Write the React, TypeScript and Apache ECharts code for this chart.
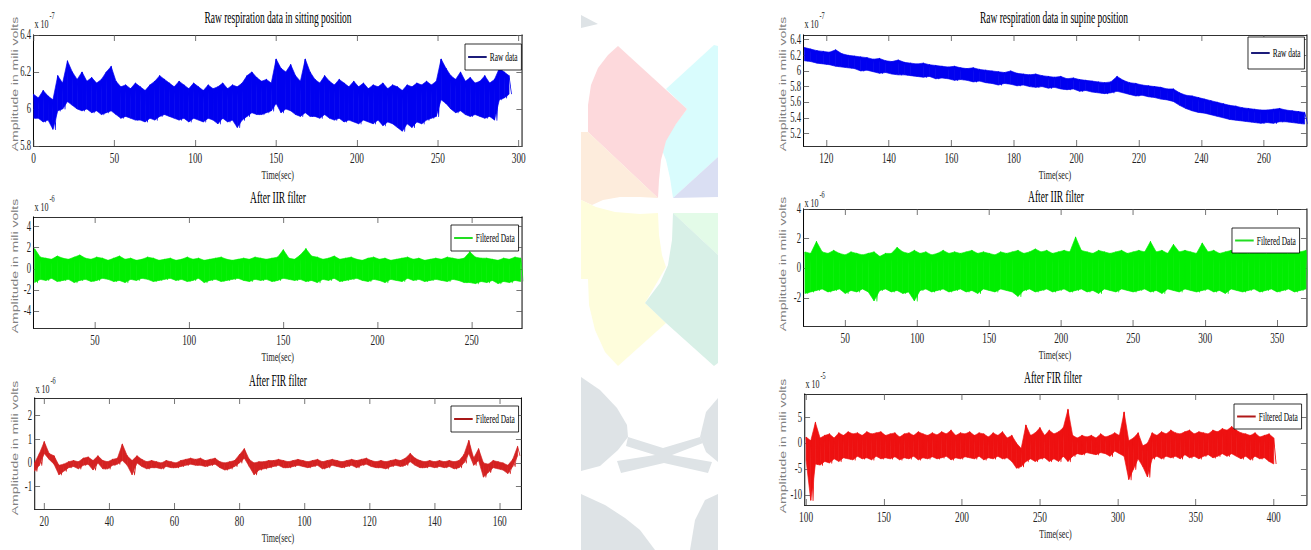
import React, { useEffect, useRef } from "react";
import * as echarts from "echarts";

// ---------------- DATA ----------------
// Sitting, raw (x 1e-7), envelope peaks / troughs every 3 s from t = 0
const sitRawT0 = 0;
const sitRawDt = 3;
const sitRawHi = [6.08,6.06,6.1,6.07,6.05,6.18,6.14,6.26,6.2,6.16,6.2,6.15,6.17,6.14,6.16,6.2,6.23,6.15,6.12,6.13,6.11,6.14,6.12,6.1,6.13,6.15,6.18,6.16,6.14,6.12,6.15,6.13,6.11,6.14,6.12,6.1,6.13,6.11,6.12,6.14,6.11,6.13,6.12,6.14,6.18,6.2,6.17,6.15,6.16,6.14,6.27,6.22,6.2,6.24,6.18,6.15,6.27,6.2,6.16,6.14,6.18,6.15,6.13,6.16,6.14,6.12,6.15,6.12,6.14,6.11,6.13,6.12,6.14,6.11,6.13,6.12,6.1,6.13,6.12,6.14,6.13,6.15,6.13,6.15,6.27,6.22,6.18,6.16,6.2,6.15,6.17,6.14,6.15,6.18,6.14,6.16,6.22,6.2,6.18];
const sitRawLo = [5.95,5.95,5.93,5.94,5.89,5.99,6.0,6.04,6.02,6.0,5.99,6.0,5.98,5.99,5.97,5.98,5.99,5.97,5.95,5.96,5.95,5.94,5.94,5.93,5.95,5.94,5.96,5.97,5.96,5.95,5.94,5.95,5.93,5.95,5.94,5.93,5.95,5.94,5.92,5.95,5.93,5.94,5.9,5.94,5.96,5.98,5.97,5.97,5.98,5.99,6.03,5.98,6.0,5.99,5.97,5.96,5.98,5.96,5.96,5.95,5.97,5.95,5.94,5.95,5.93,5.94,5.93,5.92,5.94,5.93,5.92,5.94,5.91,5.93,5.92,5.9,5.88,5.92,5.9,5.93,5.92,5.94,5.95,5.96,6.05,6.03,6.0,5.98,5.99,5.97,5.96,5.97,5.96,5.95,5.96,5.94,6.05,6.06,6.08];

// Sitting, after IIR (x 1e-6), every 3 s from t = 18
const sitIirT0 = 18;
const sitIirDt = 3;
const sitIirHi = [1.9,1.1,1.0,0.9,1.2,1.0,0.9,1.1,1.3,1.0,0.9,1.1,1.0,0.8,1.0,1.2,0.9,1.0,0.8,0.9,1.1,1.0,0.8,0.9,1.0,0.8,0.9,1.1,0.9,1.0,0.8,0.9,1.0,1.1,0.9,0.8,0.9,1.0,0.9,1.1,1.0,0.9,1.0,1.1,1.8,1.0,0.9,1.3,1.9,1.2,1.1,0.9,1.0,1.2,0.9,1.0,1.1,0.9,0.8,1.0,1.1,0.9,1.0,0.8,0.9,1.0,1.1,0.9,1.0,0.8,0.9,1.0,0.9,1.1,1.0,0.9,1.0,1.6,1.1,1.0,1.0,0.9,0.8,1.0,0.9,1.1,1.0];
const sitIirLo = [-1.3,-1.0,-1.1,-0.9,-1.2,-1.1,-1.0,-1.3,-1.1,-1.0,-1.2,-1.1,-0.9,-1.0,-1.2,-1.1,-1.3,-1.0,-1.1,-0.9,-1.0,-1.2,-1.1,-1.0,-0.9,-1.1,-1.0,-1.2,-1.1,-0.9,-1.3,-1.1,-1.0,-1.2,-1.1,-1.0,-0.9,-1.1,-1.2,-1.0,-1.1,-1.0,-1.2,-1.1,-0.9,-1.0,-1.1,-1.0,-1.2,-1.1,-1.3,-1.0,-1.1,-0.9,-1.2,-1.1,-1.0,-0.9,-1.1,-1.2,-1.0,-1.1,-1.3,-1.0,-1.1,-1.2,-0.9,-1.1,-1.0,-1.2,-1.1,-1.0,-1.1,-1.2,-1.0,-1.1,-1.3,-1.3,-1.4,-1.2,-1.3,-1.1,-1.4,-1.2,-1.3,-1.1,-1.2];

// Sitting, after FIR (x 1e-6), every 1.5 s from t = 17
const sitFirT0 = 17;
const sitFirDt = 1.5;
const sitFirHi = [0.0,0.4,0.9,0.4,0.3,-0.1,-0.05,0.05,0.1,0.05,0.2,0.25,0.1,0.3,0.1,0.05,0.15,0.2,0.8,0.3,0.1,0.3,0.15,0.05,0.1,0.05,0.0,0.1,0.05,0.0,0.1,0.15,0.2,0.15,0.2,0.1,0.15,0.2,0.05,0.0,0.05,0.1,0.35,0.6,0.15,0.0,0.05,0.05,0.1,0.1,0.15,0.1,0.05,0.1,0.15,0.1,0.05,0.1,0.15,0.05,0.1,0.15,0.1,0.05,0.1,0.15,0.1,0.15,0.2,0.1,0.05,0.1,0.05,0.1,0.15,0.1,0.2,0.4,0.2,0.1,0.05,0.1,0.05,0.1,0.05,0.1,0.05,0.1,0.35,0.95,0.2,0.6,0.0,-0.05,0.1,0.05,0.0,-0.1,0.15,0.7];
const sitFirLo = [-0.35,-0.1,0.4,0.15,-0.05,-0.5,-0.35,-0.2,-0.15,-0.25,-0.1,-0.05,-0.3,0.0,-0.25,-0.25,-0.1,-0.05,0.1,-0.1,-0.5,0.0,-0.15,-0.25,-0.2,-0.2,-0.25,-0.15,-0.2,-0.2,-0.15,-0.1,-0.05,-0.1,-0.1,-0.15,-0.1,-0.05,-0.2,-0.3,-0.25,-0.15,0.0,0.2,-0.15,-0.5,-0.3,-0.25,-0.2,-0.15,-0.1,-0.2,-0.2,-0.15,-0.1,-0.15,-0.2,-0.15,-0.1,-0.25,-0.2,-0.1,-0.15,-0.2,-0.15,-0.1,-0.2,-0.1,-0.05,-0.15,-0.2,-0.2,-0.25,-0.15,-0.1,-0.15,-0.1,0.05,-0.1,-0.2,-0.2,-0.15,-0.2,-0.15,-0.2,-0.15,-0.25,-0.2,0.0,0.4,-0.1,0.1,-0.6,-0.4,-0.2,-0.25,-0.3,-0.45,-0.15,0.3];

// Supine, raw (x 1e-7), every 2 s from t = 113
const supRawT0 = 113;
const supRawDt = 2;
const supRawHi = [6.3,6.28,6.26,6.25,6.24,6.27,6.22,6.2,6.19,6.18,6.17,6.15,6.16,6.13,6.12,6.14,6.11,6.1,6.09,6.1,6.08,6.07,6.06,6.05,6.06,6.04,6.03,6.04,6.02,6.01,6.0,5.99,5.98,6.0,5.97,5.96,5.95,5.96,5.94,5.93,5.92,5.93,5.9,5.91,5.89,5.88,5.87,5.86,5.85,5.86,5.93,5.88,5.85,5.84,5.82,5.81,5.8,5.79,5.77,5.77,5.72,5.69,5.68,5.66,5.64,5.62,5.6,5.58,5.56,5.55,5.53,5.52,5.51,5.5,5.5,5.51,5.52,5.5,5.49,5.48,5.47];
const supRawLo = [6.13,6.12,6.1,6.09,6.08,6.06,6.05,6.04,6.03,6.0,6.01,5.99,5.97,5.98,5.96,5.95,5.95,5.94,5.93,5.92,5.93,5.9,5.91,5.9,5.88,5.89,5.88,5.86,5.87,5.85,5.84,5.82,5.84,5.83,5.81,5.82,5.8,5.79,5.8,5.78,5.79,5.77,5.76,5.77,5.74,5.75,5.73,5.72,5.71,5.72,5.74,5.72,5.7,5.68,5.69,5.67,5.66,5.64,5.63,5.61,5.56,5.52,5.49,5.47,5.46,5.44,5.42,5.4,5.38,5.37,5.36,5.35,5.34,5.33,5.34,5.33,5.35,5.35,5.34,5.33,5.32];

// Supine, after IIR (x 1e-6), every 4 s from t = 22
const supIirT0 = 22;
const supIirDt = 4;
const supIirHi = [1.1,1.0,1.8,1.1,1.0,1.2,1.0,0.9,1.1,1.0,0.9,1.0,1.1,0.8,1.0,1.0,1.4,1.1,1.0,1.2,1.0,1.1,0.9,1.0,1.2,1.0,1.1,1.0,1.1,1.2,1.0,1.1,1.0,0.9,1.1,1.0,1.1,1.2,1.0,1.1,1.3,1.1,1.2,1.0,1.1,1.2,1.1,2.1,1.2,1.1,1.0,1.2,1.1,1.0,1.1,1.2,1.0,1.1,1.2,1.1,1.8,1.1,1.2,1.0,1.6,1.1,1.2,1.1,1.0,1.7,1.1,1.2,1.0,1.1,1.2,1.0,1.1,1.0,1.1,1.2,1.0,1.1,1.2,1.1,1.0,1.2,1.1,1.2];
const supIirLo = [-1.7,-1.6,-1.5,-1.4,-1.6,-1.5,-1.4,-1.7,-1.5,-1.6,-1.4,-1.6,-2.2,-1.5,-1.4,-1.6,-1.5,-1.7,-1.6,-2.2,-1.5,-1.4,-1.6,-1.5,-1.4,-1.6,-1.5,-1.4,-1.6,-1.5,-1.7,-1.4,-1.5,-1.6,-1.4,-1.5,-1.6,-1.9,-1.5,-1.4,-1.6,-1.5,-1.4,-1.6,-1.5,-1.4,-1.6,-1.5,-1.4,-1.6,-1.5,-1.7,-1.4,-1.5,-1.6,-1.4,-1.5,-1.6,-1.5,-1.4,-1.6,-1.5,-1.7,-1.4,-1.5,-1.6,-1.4,-1.5,-1.6,-1.5,-1.4,-1.6,-1.5,-1.7,-1.4,-1.5,-1.6,-1.5,-1.4,-1.6,-1.5,-1.4,-1.6,-1.5,-1.4,-1.6,-1.5,-1.4];

// Supine, after FIR (x 1e-5), every 3 s from t = 100
const supFirT0 = 100;
const supFirDt = 3;
const supFirHi = [1.2,0.5,4.0,1.0,1.5,1.8,1.0,2.0,1.5,2.2,1.8,2.0,1.5,2.2,1.8,2.0,2.2,1.5,1.8,2.0,1.2,1.8,2.0,1.5,2.2,1.8,1.5,2.0,1.6,2.2,1.8,2.5,1.5,2.0,1.8,2.2,1.5,2.0,1.8,1.2,2.0,1.5,2.2,1.0,1.5,0.0,-1.0,3.5,1.5,2.0,3.0,1.5,2.5,1.8,2.2,3.0,6.5,1.5,1.0,1.5,1.2,1.5,1.0,1.8,1.2,1.5,2.0,1.5,6.0,0.5,1.0,2.0,-0.5,0.0,2.0,1.5,2.2,1.8,2.5,2.0,1.8,2.2,2.5,1.8,2.2,2.0,1.8,2.5,2.2,2.8,2.5,3.2,2.5,2.0,1.8,1.5,2.0,1.2,1.5,1.8,1.0];
const supFirLo = [-3.2,-11.0,-4.0,-4.2,-3.5,-3.8,-3.0,-3.5,-2.8,-3.0,-3.2,-2.5,-3.0,-2.8,-3.2,-2.5,-3.0,-2.8,-3.0,-2.6,-3.2,-2.8,-3.0,-2.5,-3.2,-2.8,-3.0,-2.6,-3.0,-2.8,-2.5,-3.2,-2.8,-3.0,-2.6,-2.8,-3.0,-2.5,-3.2,-2.8,-3.0,-2.5,-3.0,-2.8,-3.5,-4.8,-4.5,-3.5,-3.0,-3.5,-3.0,-2.8,-3.5,-3.0,-3.5,-2.5,-3.5,-2.5,-2.0,-2.2,-1.8,-2.0,-2.2,-1.8,-2.0,-2.5,-1.5,-2.0,-2.5,-7.0,-5.0,-3.0,-4.5,-6.5,-3.0,-2.5,-3.0,-2.5,-2.8,-2.5,-3.0,-2.2,-2.8,-2.5,-3.0,-2.5,-2.2,-2.8,-2.5,-2.0,-2.5,-2.0,-2.5,-3.0,-2.5,-3.2,-2.5,-3.0,-2.8,-3.5,-4.0];

// Tick values / labels
const sitRawXTicks = [0, 50, 100, 150, 200, 250, 300];
const sitRawYTicks = [5.8, 6, 6.2, 6.4];
const sitIirXTicks = [50, 100, 150, 200, 250];
const sitIirYTicks = [-4, -2, 0, 2, 4];
const sitFirXTicks = [20, 40, 60, 80, 100, 120, 140, 160];
const sitFirYTicks = [-1, 0, 1, 2];
const supRawXTicks = [120, 140, 160, 180, 200, 220, 240, 260];
const supRawYTicks = [5.2, 5.4, 5.6, 5.8, 6, 6.2, 6.4];
const supIirXTicks = [50, 100, 150, 200, 250, 300, 350];
const supIirYTicks = [-2, 0, 2, 4];
const supFirXTicks = [100, 150, 200, 250, 300, 350, 400];
const supFirYTicks = [-10, -5, 0, 5];

const titles = [
  "Raw respiration data in sitting position",
  "After IIR filter",
  "After FIR filter",
  "Raw respiration data in supine position",
  "After IIR filter",
  "After FIR filter",
];
const exponents = ["-7", "-6", "-6", "-7", "-6", "-5"];
const legendNames = ["Raw data", "Filtered Data", "Filtered Data", "Raw data", "Filtered Data", "Filtered Data"];
const yAxisTitle = "Amplitude in mili volts";
const xAxisTitle = "Time(sec)";

// ---------------- LAYOUT ----------------
const S = 0.62; // horizontal squeeze of the whole figure
const W = 1311;
const H = 550;
const CW = W / S;
const X = (px: number) => px / S;

type Panel = {
  L: number; T: number; R: number; B: number;
  xMin: number; xMax: number; yMin: number; yMax: number;
  xTicks: number[]; yTicks: number[];
  t0: number; dt: number; hi: number[]; lo: number[];
  color: string; legColor: string; lw: number; band: boolean;
  titleX: number; titleY: number; expY: number; nameX: number; nameY: number;
  leg: { x: number; y: number; h: number };
};

const panels: Panel[] = [
  { L: 33.5, T: 35, R: 522, B: 146, xMin: 0, xMax: 302, yMin: 5.8, yMax: 6.4, xTicks: sitRawXTicks, yTicks: sitRawYTicks,
    t0: sitRawT0, dt: sitRawDt, hi: sitRawHi, lo: sitRawLo, color: "#0000f0", legColor: "#1c1c7a", lw: 1.2, band: true,
    titleX: 278, titleY: 17, expY: 23, nameX: 15, nameY: 84, leg: { x: 465, y: 44, h: 26 } },
  { L: 33.5, T: 217, R: 522, B: 328, xMin: 17.4, xMax: 276.7, yMin: -5.6, yMax: 4.9, xTicks: sitIirXTicks, yTicks: sitIirYTicks,
    t0: sitIirT0, dt: sitIirDt, hi: sitIirHi, lo: sitIirLo, color: "#00ee00", legColor: "#22dd22", lw: 1.2, band: true,
    titleX: 278, titleY: 197, expY: 206, nameX: 15, nameY: 266, leg: { x: 451, y: 225, h: 26 } },
  { L: 34.5, T: 398, R: 521.5, B: 509, xMin: 17, xMax: 166.7, yMin: -1.95, yMax: 2.75, xTicks: sitFirXTicks, yTicks: sitFirYTicks,
    t0: sitFirT0, dt: sitFirDt, hi: sitFirHi, lo: sitFirLo, color: "#d42222", legColor: "#a81818", lw: 1.2, band: true,
    titleX: 278, titleY: 380, expY: 388, nameX: 15, nameY: 448, leg: { x: 451, y: 406, h: 26 } },
  { L: 803.5, T: 35, R: 1306.5, B: 146, xMin: 112.7, xMax: 273.6, yMin: 5.04, yMax: 6.46, xTicks: supRawXTicks, yTicks: supRawYTicks,
    t0: supRawT0, dt: supRawDt, hi: supRawHi, lo: supRawLo, color: "#0000f0", legColor: "#1c1c7a", lw: 1.2, band: true,
    titleX: 1054, titleY: 17, expY: 23, nameX: 783, nameY: 84, leg: { x: 1248, y: 37, h: 32 } },
  { L: 803.5, T: 209, R: 1306.5, B: 326, xMin: 21, xMax: 370.4, yMin: -3.9, yMax: 4, xTicks: supIirXTicks, yTicks: supIirYTicks,
    t0: supIirT0, dt: supIirDt, hi: supIirHi, lo: supIirLo, color: "#00ee00", legColor: "#22dd22", lw: 1.2, band: true,
    titleX: 1056, titleY: 196, expY: 202, nameX: 783, nameY: 264, leg: { x: 1232, y: 228, h: 25 } },
  { L: 804.5, T: 394, R: 1306.5, B: 505, xMin: 99, xMax: 421, yMin: -11.9, yMax: 9.5, xTicks: supFirXTicks, yTicks: supFirYTicks,
    t0: supFirT0, dt: supFirDt, hi: supFirHi, lo: supFirLo, color: "#ee1111", legColor: "#b01818", lw: 1.4, band: true,
    titleX: 1053, titleY: 377, expY: 383, nameX: 783, nameY: 446, leg: { x: 1234, y: 404, h: 25 } },
];

// decorative watermark in the middle (page coordinates)
const watermark: { c: string; p: number[][] }[] = [
  { c: "#d9fcfd", p: [[666,89],[714,45],[718,46],[718,157],[673,198],[670,178],[666,160],[660,145],[687,109]] },
  { c: "#fdd9dc", p: [[618,46],[687,109],[676,124],[666,141],[661,160],[659,180],[658,198],[588,132],[588,105],[591,85],[598,68],[608,55]] },
  { c: "#dadff3", p: [[718,157],[718,197],[673,198]] },
  { c: "#fdecdc", p: [[581,132],[588,132],[658,198],[640,197],[620,197],[603,200],[592,205],[581,200]] },
  { c: "#fefddc", p: [[581,200],[596,207],[615,212],[640,214],[658,213],[659,235],[662,255],[666,267],[645,303],[666,323],[618,366],[605,352],[595,330],[589,305],[588,279],[581,279]] },
  { c: "#e3fbe8", p: [[673,213],[718,213],[718,255]] },
  { c: "#d8f0e7", p: [[673,213],[718,255],[718,363],[714,366],[666,323],[645,303],[660,283],[668,265],[672,240]] },
  { c: "#dee3e6", p: [[581,15],[598,24],[581,28]] },
  { c: "#dee3e6", p: [[581,377],[600,390],[617,408],[627,425],[628,437],[618,450],[600,466],[581,471]] },
  { c: "#dee3e6", p: [[628,437],[663,448],[700,437],[703,443],[672,455],[712,462],[708,473],[664,463],[621,473],[617,461],[655,455],[626,446]] },
  { c: "#dee3e6", p: [[718,398],[706,412],[700,437],[706,452],[718,462]] },
  { c: "#dee3e6", p: [[581,494],[605,505],[625,518],[640,530],[655,550],[581,550]] },
  { c: "#dee3e6", p: [[705,500],[718,494],[718,550],[690,550],[695,520]] },
];

const SERIF = "Liberation Serif, Times New Roman, serif";
const SANS = "Liberation Sans, Arial, sans-serif";

function zigzag(t0: number, dt: number, hi: number[], lo: number[]) {
  const out: number[][] = [];
  for (let i = 0; i < hi.length; i++) {
    const t = t0 + i * dt;
    out.push([t, hi[i]]);
    out.push([t + dt / 2, lo[i]]);
  }
  return out;
}

// one quadrilateral per pair of consecutive envelope samples
function bandSegments(t0: number, dt: number, hi: number[], lo: number[]) {
  const out: number[][] = [];
  for (let i = 0; i < hi.length - 1; i++) {
    out.push([t0 + i * dt, lo[i], hi[i], t0 + (i + 1) * dt, lo[i + 1], hi[i + 1]]);
  }
  return out;
}

function buildOption() {
  const grid: any[] = [];
  const xAxis: any[] = [];
  const yAxis: any[] = [];
  const series: any[] = [];
  const legend: any[] = [];
  const graphic: any[] = [];

  watermark.forEach((w) => {
    graphic.push({
      type: "polygon", silent: true, z: -10,
      shape: { points: w.p.map(([x, y]) => [X(x), y]) },
      style: { fill: w.c, stroke: null },
    });
  });

  panels.forEach((p, i) => {
    grid.push({
      left: X(p.L), top: p.T, width: X(p.R - p.L), height: p.B - p.T,
      containLabel: false, outerBoundsMode: "none", show: false,
    });
    const tickStyle = { color: "#555", width: 1 };
    const xBase = {
      type: "value", gridIndex: i, min: p.xMin, max: p.xMax,
      splitLine: { show: false },
      axisLine: { show: true, onZero: false, lineStyle: { color: "#000", width: 1 } },
      axisTick: { show: true, inside: true, length: 6, customValues: p.xTicks, lineStyle: tickStyle },
    };
    xAxis.push({
      ...xBase, position: "bottom",
      axisLabel: { show: true, customValues: p.xTicks, margin: 5, fontFamily: SERIF, fontSize: 15, color: "#222" },
      name: xAxisTitle, nameLocation: "middle", nameGap: 22,
      nameTextStyle: { fontFamily: SERIF, fontSize: 13, color: "#222" },
    });
    xAxis.push({ ...xBase, position: "top", axisLabel: { show: false } });
    const yBase = {
      type: "value", gridIndex: i, min: p.yMin, max: p.yMax,
      splitLine: { show: false },
      axisLine: { show: true, onZero: false, lineStyle: { color: "#000", width: 1.6 } },
      axisTick: { show: true, inside: true, length: 9, customValues: p.yTicks, lineStyle: tickStyle },
    };
    yAxis.push({
      ...yBase, position: "left",
      axisLabel: { show: true, customValues: p.yTicks, margin: 4, fontFamily: SERIF, fontSize: 14, color: "#222" },
    });
    yAxis.push({ ...yBase, position: "right", axisLabel: { show: false } });

    const sName = legendNames[i] + " #" + (i + 1);
    const color = p.color;
    if (p.band) {
      // solid envelope band
      series.push({
        type: "custom", name: "band-" + i, xAxisIndex: 2 * i, yAxisIndex: 2 * i,
        data: bandSegments(p.t0, p.dt, p.hi, p.lo),
        encode: { x: [0, 3], y: [1, 2, 4, 5] },
        silent: true, clip: true,
        renderItem: (params: any, api: any) => {
          const a = api.coord([api.value(0), api.value(2)]);
          const b = api.coord([api.value(3), api.value(5)]);
          const c = api.coord([api.value(3), api.value(4)]);
          const d = api.coord([api.value(0), api.value(1)]);
          return {
            type: "polygon",
            shape: { points: [a, b, c, d] },
            style: { fill: color, stroke: color, lineWidth: 0.8 },
          };
        },
      });
    }
    // the signal trace
    series.push({
      type: "line", name: sName, xAxisIndex: 2 * i, yAxisIndex: 2 * i,
      data: zigzag(p.t0, p.dt, p.hi, p.lo),
      symbol: "none", showSymbol: false, silent: true, clip: true,
      lineStyle: { color: p.color, width: p.lw, join: "round" },
      itemStyle: { color: p.legColor },
    });

    const padV = (p.leg.h - 14) / 2;
    legend.push({
      show: true, left: X(p.leg.x), top: p.leg.y, orient: "horizontal",
      data: [{ name: sName, icon: "rect" }], formatter: () => legendNames[i], selectedMode: false,
      backgroundColor: "#fff", borderColor: "#000", borderWidth: 1, borderRadius: 0,
      padding: [padV, 6, padV, 5], itemWidth: 30, itemHeight: 2,
      itemStyle: { color: p.legColor, borderWidth: 0 },
      textStyle: { fontFamily: SERIF, fontSize: 12, color: "#000", lineHeight: 14 },
    });

    graphic.push({
      type: "text", x: X(p.titleX), y: p.titleY, scaleX: 0.9, silent: true,
      style: { text: titles[i], fontFamily: SERIF, fontSize: 17, fill: "#000",
        align: "center", verticalAlign: "middle", textAlign: "center", textVerticalAlign: "middle" },
    });
    graphic.push({
      type: "text", x: X(p.L + 1), y: p.expY, silent: true,
      style: { text: "x 10", fontFamily: SERIF, fontSize: 13, fill: "#222",
        align: "left", verticalAlign: "middle", textAlign: "left", textVerticalAlign: "middle" },
    });
    graphic.push({
      type: "text", x: X(p.L + 1) + 24, y: p.expY - 7, silent: true,
      style: { text: exponents[i], fontFamily: SERIF, fontSize: 10, fill: "#222",
        align: "left", verticalAlign: "middle", textAlign: "left", textVerticalAlign: "middle" },
    });
    graphic.push({
      type: "text", x: X(p.nameX), y: p.nameY, rotation: Math.PI / 2, scaleY: 1.15, silent: true,
      style: { text: yAxisTitle, fontFamily: SANS, fontSize: 14, fill: "#808080",
        align: "center", verticalAlign: "middle", textAlign: "center", textVerticalAlign: "middle" },
    });
  });

  return {
    animation: false,
    backgroundColor: "#fff",
    grid, xAxis, yAxis, series, legend, graphic,
  };
}

export default function App() {
  const ref = useRef<HTMLDivElement>(null);
  useEffect(() => {
    document.body.style.margin = "0";
    const chart = echarts.init(ref.current as HTMLDivElement, null, { renderer: "svg" });
    chart.setOption(buildOption() as any);
    return () => chart.dispose();
  }, []);
  return (
    <div style={{ position: "absolute", left: 0, top: 0, width: W, height: H, overflow: "hidden", background: "#fff" }}>
      <div ref={ref} style={{ width: CW, height: H, transform: `scaleX(${S})`, transformOrigin: "0 0" }} />
    </div>
  );
}
